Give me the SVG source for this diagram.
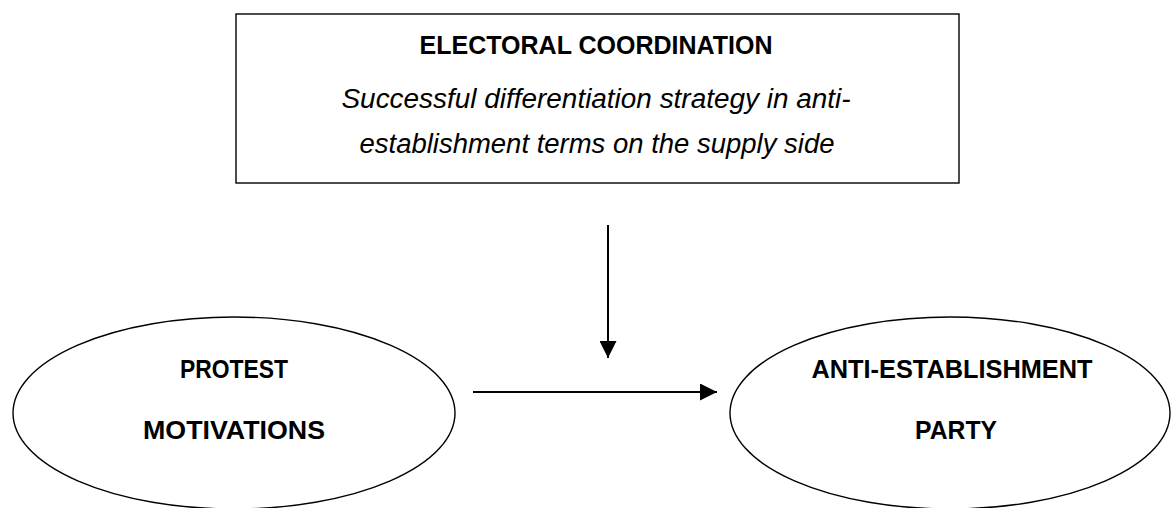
<svg xmlns="http://www.w3.org/2000/svg" width="1171" height="508" viewBox="0 0 1171 508">
<style>
.shape{fill:#fff;stroke:#000;stroke-width:1.4}
.b{font-family:"Liberation Sans",Arial,sans-serif;font-weight:bold;font-size:26px;fill:#000;text-anchor:middle}
.i{font-family:"Liberation Sans",Arial,sans-serif;font-style:italic;font-size:27px;fill:#000;text-anchor:middle}
.conn{stroke:#000;stroke-width:2;fill:none}
</style>
<defs>
<marker id="ah2" viewBox="0 0 10 10" refX="10" refY="5" markerWidth="17" markerHeight="17" markerUnits="userSpaceOnUse" orient="auto">
<path d="M0,0 L10,5 L0,10 Z" fill="#000"/>
</marker>
</defs>
<rect width="1171" height="508" fill="#fff"/>
<g id="electoral-coordination">
<rect class="shape" x="236" y="14" width="723" height="169"/>
<text class="b" x="596" y="54" textLength="353" lengthAdjust="spacingAndGlyphs">ELECTORAL COORDINATION</text>
<text class="i" x="596" y="108" textLength="509" lengthAdjust="spacingAndGlyphs">Successful differentiation strategy in anti-</text>
<text class="i" x="597" y="153" textLength="475" lengthAdjust="spacingAndGlyphs">establishment terms on the supply side</text>
</g>
<g id="protest-motivations">
<ellipse class="shape" cx="234" cy="413" rx="221" ry="96"/>
<text class="b" x="234" y="378" textLength="108" lengthAdjust="spacingAndGlyphs">PROTEST</text>
<text class="b" x="234" y="439" textLength="182" lengthAdjust="spacingAndGlyphs">MOTIVATIONS</text>
</g>
<g id="anti-establishment-party">
<ellipse class="shape" cx="950" cy="413" rx="220" ry="96"/>
<text class="b" x="952" y="378" textLength="281" lengthAdjust="spacingAndGlyphs">ANTI-ESTABLISHMENT</text>
<text class="b" x="956" y="439" textLength="82" lengthAdjust="spacingAndGlyphs">PARTY</text>
</g>
<g id="connectors">
<line class="conn" x1="608" y1="225" x2="608" y2="358" marker-end="url(#ah2)"/>
<line class="conn" x1="473" y1="392" x2="717" y2="392" marker-end="url(#ah2)"/>
</g>
</svg>
